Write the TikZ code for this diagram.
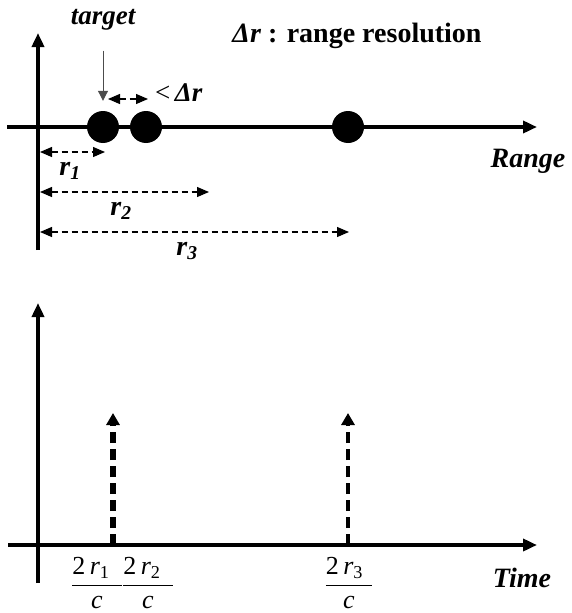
\documentclass[tikz,border=0pt]{standalone}
\usepackage{amsmath}
\usepackage{fontspec}
\setmainfont{Liberation Serif}
\usetikzlibrary{arrows.meta}

\tikzset{
  axis/.style={line width=3.5pt,-{Triangle[length=14pt,width=12pt]}},
  dot/.style={circle,fill,inner sep=0pt,minimum size=32pt},
  span/.style={dash pattern=on 6pt off 4pt,line width=1.1pt,{Triangle[length=12pt,width=10pt]}-{Triangle[length=12pt,width=10pt]}},
  pulse/.style={dash pattern=on 11pt off 6pt,-{Triangle[length=12pt,width=13pt]}},
  pointer/.style={line width=1pt,gray!60!black,-{Triangle[length=10pt,width=10pt]}},
  lbl/.style={inner sep=0pt,font=\bfseries\itshape\fontsize{28}{30}\selectfont},
  frc/.style={inner sep=0pt,font=\fontsize{26}{30}\selectfont}
}
\newcommand{\delay}[2]{$\dfrac{\mbox{2\,\textit{r}\textsubscript{#1}\hspace{#2}}}{\mbox{\textit{c}}}$}

\begin{document}
\begin{tikzpicture}[x=1pt,y=-1pt]
\useasboundingbox (0,0) rectangle (571,613);
% range axis
\begin{scope}
\draw[axis] (7,127)--(537,127);
\draw[axis] (38,250)--(38,33);
\foreach \x/\n in {103/t1,146/t2,348/t3}{\node[dot] (\n) at (\x,127) {};}
\node[lbl,font=\bfseries\itshape\fontsize{27}{30}\selectfont] (tgt) at (103,20) {target};
\draw[pointer,shorten <=20pt,shorten >=10pt] (tgt.south)--(t1.north);
\coordinate (d1) at (108,99);
\coordinate (d2) at (148,99);
\draw[span] (d1)--(d2);
\node[lbl,font=\fontsize{27}{30}\selectfont,anchor=west] (dr) at (155,93) {<\,\textbf{\textit{Δr}}};
\node[inner sep=0pt,font=\bfseries\fontsize{28}{30}\selectfont] (res) at (357,36) {\textit{Δr} : range resolution};
\node[lbl] (rng) at (528,161) {Range};
\foreach \y/\xe/\n/\lx in {152/105/1/70,192/209/2/121,232/349/3/187}{
  \coordinate (s\n) at (40,\y);
  \coordinate (e\n) at (\xe,\y);
  \draw[span] (s\n)--(e\n);
  \node[lbl] (r\n) at (\lx,\y+19) {r\textsubscript{\n}};
}
\end{scope}
% time axis
\begin{scope}
\draw[axis] (8,545)--(537,545);
\draw[axis] (38,583)--(38,303);
\coordinate (p1) at (113,545);
\coordinate (q1) at (113,413);
\coordinate (p3) at (348,545);
\coordinate (q3) at (348,413);
\draw[pulse,line width=6pt] (p1)--(q1);
\draw[pulse,line width=4pt] (p3)--(q3);
\node[frc] (f1) at (97,583) {\delay{1}{12pt}};
\node[frc] (f2) at (148,583) {\delay{2}{12pt}};
\node[frc] (f3) at (349,583) {\delay{3}{9pt}};
\node[lbl] (tim) at (522,578) {Time};
\end{scope}
\end{tikzpicture}
\end{document}
